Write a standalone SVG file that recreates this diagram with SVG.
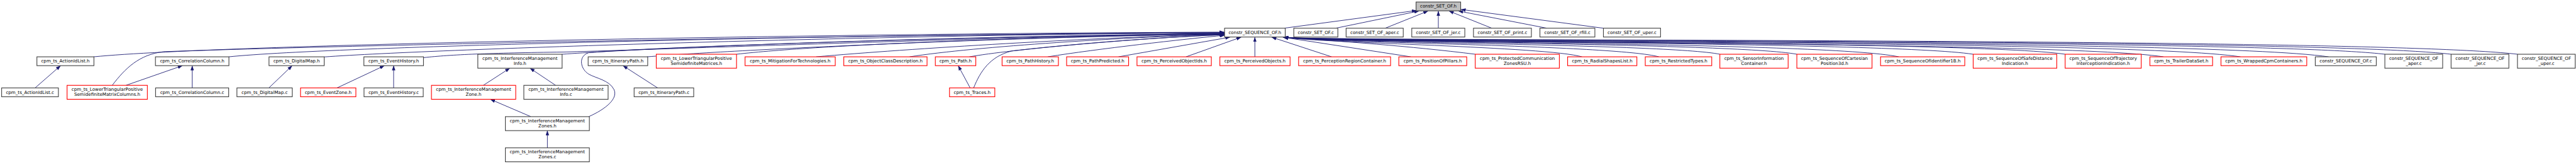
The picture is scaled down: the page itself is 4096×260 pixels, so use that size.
<svg xmlns="http://www.w3.org/2000/svg" width="4096" height="260" viewBox="0 0 4096 260">
<style>
.n rect{fill:#fff;stroke:#404040;stroke-width:2}
.r rect{stroke:#ff0000}
.root rect{fill:#bfbfbf}
text{font-family:"DejaVu Sans",sans-serif;font-size:12.9px;text-anchor:middle;fill:#000}
#connectors path{fill:none;stroke:#191970;stroke-width:1.6;marker-end:url(#ah)}
</style>
<defs>
<marker id="ah" markerUnits="userSpaceOnUse" viewBox="0 0 14 10" refX="13.5" refY="5" markerWidth="14" markerHeight="10" orient="auto"><path d="M0,0 L14,5 L0,10 z" fill="#191970"/></marker>
</defs>
<rect width="4096" height="260" fill="#fff"/>
<g transform="scale(0.5537)">
<g id="connectors">
<path d="M3687.7,80.7 L4068,30"/>
<path d="M3836,80.7 L4075,31.5"/>
<path d="M3978,80.7 L4101,31.5"/>
<path d="M4130.5,80.7 L4130.5,31.5"/>
<path d="M4284,80.7 L4161,31.5"/>
<path d="M4442,80.7 L4188,31.5"/>
<path d="M4604,80.7 L4195.5,27"/>
<path d="M269,162.7 C650,125 2500,95 3516,92"/>
<path d="M322.3,244.3 C360,195 400,156 470,148 C900,132 2400,100 3516,93"/>
<path d="M657,162.7 C950,132 2500,97 3516,93.5"/>
<path d="M931,163 C1250,140 2600,98 3516,94"/>
<path d="M1216,165 C1300,156 1400,152 1620,149 C2000,138 2800,108 3516,95"/>
<path d="M1614,155.3 C1900,135 2700,104 3516,96"/>
<path d="M1690.6,334 C1740,312 1776,282 1763,256 C1750,230 1712,224 1692,213 C1668,200 1658,162 1690,151 C1850,136 2700,106 3516,96.5"/>
<path d="M1858,162.7 C2100,143 2900,106 3516,97"/>
<path d="M2115,155.3 C2350,128 3000,104 3516,97.5"/>
<path d="M2344,162.7 C2600,140 3150,106 3516,98"/>
<path d="M2612,162.7 C2800,133 3250,105 3516,98.5"/>
<path d="M2784,162.7 C2900,142 3250,110 3516,99"/>
<path d="M2796,251.7 C2815,205 2842,162 2905,146 C3060,128 3300,108 3516,99.5"/>
<path d="M3009,162.7 C3150,140 3400,112 3517,101"/>
<path d="M3212,162.7 L3532,106.5"/>
<path d="M3406,162.7 L3564,106.5"/>
<path d="M3603.6,162.7 L3603.6,106.5"/>
<path d="M3824,162.7 L3652,106.5"/>
<path d="M4051.5,162.7 L3684,106.5"/>
<path d="M4236.5,155.3 C4050,132 3850,118 3685,106.5"/>
<path d="M4543,162.7 C4440,133 3800,124 3686,106.5"/>
<path d="M4764,162.7 C4635,128 3790,123 3686,106.5"/>
<path d="M4939,155.3 C4789,125 3785,123 3686,106.5"/>
<path d="M5160,155.3 C4983,122 3780,122 3686,106.5"/>
<path d="M5453,162.7 C5241,118 3780,124 3686,106.5"/>
<path d="M5666,155.3 C5428,118 3775,122 3686,106.5"/>
<path d="M5930.5,155.3 C5661,115 3780,123 3686,106.5"/>
<path d="M6213,162.7 C5910,116 3785,125 3686,106.5"/>
<path d="M6434,162.7 C6104,112 3780,124 3686,106.5"/>
<path d="M6687,162.7 C6327,110 3790,123 3686,106.5"/>
<path d="M6848.6,155.3 C6469,110 3785,122 3686,106.5"/>
<path d="M7038.8,155.3 C6636,107 3780,121 3686,106.5"/>
<path d="M7229.4,155.3 C6804,105 3775,120 3686,106.5"/>
<path d="M100.8,251.7 L174,188"/>
<path d="M361.8,244.3 L524,188"/>
<path d="M552,251.7 L552,188"/>
<path d="M772.1,251.7 L839,188"/>
<path d="M967.9,251.7 L1104,188"/>
<path d="M1130.4,251.7 L1130.4,188"/>
<path d="M1388,244.3 L1464,195.3"/>
<path d="M1595.6,244.3 L1522,195.3"/>
<path d="M1524.5,334 L1408,284.3"/>
<path d="M1571.9,423.3 L1571.9,374"/>
<path d="M1888.5,251.7 L1789,188"/>
<path d="M2786,251.7 L2751.6,188"/>
</g>
<g id="n0" class="n root"><rect x="4066.5" y="5.7" width="128.1" height="25.3"/><text x="4130.5" y="22.4">constr_SET_OF.h</text></g>
<g id="n1" class="n"><rect x="3516.6" y="80.7" width="174.2" height="25.3"/><text x="3603.7" y="97.4">constr_SEQUENCE_OF.h</text></g>
<g id="n2" class="n"><rect x="3715.4" y="80.7" width="126.5" height="25.3"/><text x="3778.7" y="97.4">constr_SET_OF.c</text></g>
<g id="n3" class="n"><rect x="3865.6" y="80.7" width="164.1" height="25.3"/><text x="3947.7" y="97.4">constr_SET_OF_aper.c</text></g>
<g id="n4" class="n"><rect x="4054.2" y="80.7" width="152.3" height="25.3"/><text x="4130.4" y="97.4">constr_SET_OF_jer.c</text></g>
<g id="n5" class="n"><rect x="4231.4" y="80.7" width="166.3" height="25.3"/><text x="4314.6" y="97.4">constr_SET_OF_print.c</text></g>
<g id="n6" class="n"><rect x="4422.2" y="80.7" width="157.8" height="25.3"/><text x="4501.1" y="97.4">constr_SET_OF_rfill.c</text></g>
<g id="n7" class="n"><rect x="4604.5" y="80.7" width="164.1" height="25.3"/><text x="4686.6" y="97.4">constr_SET_OF_uper.c</text></g>
<g id="a1" class="n"><rect x="106" y="162.7" width="163.7" height="25.3"/><text x="187.9" y="179.4">cpm_ts_ActionIdList.h</text></g>
<g id="a2" class="n"><rect x="446.4" y="162.7" width="211" height="25.3"/><text x="551.9" y="179.4">cpm_ts_CorrelationColumn.h</text></g>
<g id="a3" class="n"><rect x="772.5" y="162.7" width="158.5" height="25.3"/><text x="851.8" y="179.4">cpm_ts_DigitalMap.h</text></g>
<g id="a4" class="n"><rect x="1045" y="162.7" width="171.2" height="25.3"/><text x="1130.6" y="179.4">cpm_ts_EventHistory.h</text></g>
<g id="a5" class="n"><rect x="1372.2" y="155.3" width="242" height="40"/><text x="1493.2" y="171.2">cpm_ts_InterferenceManagement</text><text x="1493.2" y="185.6">Info.h</text></g>
<g id="a6" class="n"><rect x="1689" y="162.7" width="171" height="25.3"/><text x="1774.5" y="179.4">cpm_ts_ItineraryPath.h</text></g>
<g id="a7" class="n r"><rect x="1884.6" y="155.3" width="230.5" height="40"/><text x="1999.9" y="171.2">cpm_ts_LowerTriangularPositive</text><text x="1999.9" y="185.6">SemidefiniteMatrices.h</text></g>
<g id="a8" class="n r"><rect x="2139.6" y="162.7" width="259" height="25.3"/><text x="2269.1" y="179.4">cpm_ts_MitigationForTechnologies.h</text></g>
<g id="a9" class="n r"><rect x="2423.1" y="162.7" width="239.1" height="25.3"/><text x="2542.7" y="179.4">cpm_ts_ObjectClassDescription.h</text></g>
<g id="a10" class="n r"><rect x="2686" y="162.7" width="116.2" height="25.3"/><text x="2744.1" y="179.4">cpm_ts_Path.h</text></g>
<g id="a11" class="n r"><rect x="2877.7" y="162.7" width="161.7" height="25.3"/><text x="2958.6" y="179.4">cpm_ts_PathHistory.h</text></g>
<g id="a12" class="n r"><rect x="3063" y="162.7" width="178" height="25.3"/><text x="3152" y="179.4">cpm_ts_PathPredicted.h</text></g>
<g id="a13" class="n r"><rect x="3265.1" y="162.7" width="213.5" height="25.3"/><text x="3371.9" y="179.4">cpm_ts_PerceivedObjectIds.h</text></g>
<g id="a14" class="n r"><rect x="3503.1" y="162.7" width="201.6" height="25.3"/><text x="3603.9" y="179.4">cpm_ts_PerceivedObjects.h</text></g>
<g id="a15" class="n r"><rect x="3729.2" y="162.7" width="264.1" height="25.3"/><text x="3861.3" y="179.4">cpm_ts_PerceptionRegionContainer.h</text></g>
<g id="a16" class="n r"><rect x="4017" y="162.7" width="195" height="25.3"/><text x="4114.5" y="179.4">cpm_ts_PositionOfPillars.h</text></g>
<g id="a17" class="n r"><rect x="4236.5" y="155.3" width="241.5" height="40"/><text x="4357.3" y="171.2">cpm_ts_ProtectedCommunication</text><text x="4357.3" y="185.6">ZonesRSU.h</text></g>
<g id="a18" class="n r"><rect x="4501.7" y="162.7" width="198.9" height="25.3"/><text x="4601.2" y="179.4">cpm_ts_RadialShapesList.h</text></g>
<g id="a19" class="n r"><rect x="4724.7" y="162.7" width="190.9" height="25.3"/><text x="4820.2" y="179.4">cpm_ts_RestrictedTypes.h</text></g>
<g id="a20" class="n r"><rect x="4938.9" y="155.3" width="196.1" height="40"/><text x="5037" y="171.2">cpm_ts_SensorInformation</text><text x="5037" y="185.6">Container.h</text></g>
<g id="a21" class="n r"><rect x="5160" y="155.3" width="215.9" height="40"/><text x="5268" y="171.2">cpm_ts_SequenceOfCartesian</text><text x="5268" y="185.6">Position3d.h</text></g>
<g id="a22" class="n r"><rect x="5400.4" y="162.7" width="241.8" height="25.3"/><text x="5521.3" y="179.4">cpm_ts_SequenceOfIdentifier1B.h</text></g>
<g id="a23" class="n r"><rect x="5666.4" y="155.3" width="240" height="40"/><text x="5786.4" y="171.2">cpm_ts_SequenceOfSafeDistance</text><text x="5786.4" y="185.6">Indication.h</text></g>
<g id="a24" class="n r"><rect x="5930.5" y="155.3" width="218.5" height="40"/><text x="6039.8" y="171.2">cpm_ts_SequenceOfTrajectory</text><text x="6039.8" y="185.6">InterceptionIndication.h</text></g>
<g id="a25" class="n r"><rect x="6173.9" y="162.7" width="180" height="25.3"/><text x="6263.9" y="179.4">cpm_ts_TrailerDataSet.h</text></g>
<g id="a26" class="n r"><rect x="6378" y="162.7" width="246.3" height="25.3"/><text x="6501.2" y="179.4">cpm_ts_WrappedCpmContainers.h</text></g>
<g id="a27" class="n"><rect x="6648.8" y="162.7" width="175.2" height="25.3"/><text x="6736.4" y="179.4">constr_SEQUENCE_OF.c</text></g>
<g id="a28" class="n"><rect x="6848.6" y="155.3" width="166" height="40"/><text x="6931.6" y="171.2">constr_SEQUENCE_OF</text><text x="6931.6" y="185.6">_aper.c</text></g>
<g id="a29" class="n"><rect x="7038.8" y="155.3" width="165.9" height="40"/><text x="7121.8" y="171.2">constr_SEQUENCE_OF</text><text x="7121.8" y="185.6">_jer.c</text></g>
<g id="a30" class="n"><rect x="7229.4" y="155.3" width="165.9" height="40"/><text x="7312.4" y="171.2">constr_SEQUENCE_OF</text><text x="7312.4" y="185.6">_uper.c</text></g>
<g id="b1" class="n"><rect x="4.7" y="251.7" width="163" height="25.3"/><text x="86.2" y="268.4">cpm_ts_ActionIdList.c</text></g>
<g id="b2" class="n r"><rect x="192.6" y="244.3" width="230.6" height="40"/><text x="307.9" y="260.2">cpm_ts_LowerTriangularPositive</text><text x="307.9" y="274.6">SemidefiniteMatrixColumns.h</text></g>
<g id="b3" class="n"><rect x="446.8" y="251.7" width="209.9" height="25.3"/><text x="551.8" y="268.4">cpm_ts_CorrelationColumn.c</text></g>
<g id="b4" class="n"><rect x="680.4" y="251.7" width="158.9" height="25.3"/><text x="759.9" y="268.4">cpm_ts_DigitalMap.c</text></g>
<g id="b5" class="n r"><rect x="863" y="251.7" width="159" height="25.3"/><text x="942.5" y="268.4">cpm_ts_EventZone.h</text></g>
<g id="b6" class="n"><rect x="1045.4" y="251.7" width="170" height="25.3"/><text x="1130.4" y="268.4">cpm_ts_EventHistory.c</text></g>
<g id="b7" class="n r"><rect x="1239" y="244.3" width="242" height="40"/><text x="1360" y="260.2">cpm_ts_InterferenceManagement</text><text x="1360" y="274.6">Zone.h</text></g>
<g id="b8" class="n"><rect x="1504.3" y="244.3" width="242" height="40"/><text x="1625.3" y="260.2">cpm_ts_InterferenceManagement</text><text x="1625.3" y="274.6">Info.c</text></g>
<g id="b9" class="n"><rect x="1821" y="251.7" width="171.1" height="25.3"/><text x="1906.6" y="268.4">cpm_ts_ItineraryPath.c</text></g>
<g id="b10" class="n r"><rect x="2726.7" y="251.7" width="130.1" height="25.3"/><text x="2791.8" y="268.4">cpm_ts_Traces.h</text></g>
<g id="c1" class="n"><rect x="1451.3" y="334" width="241.2" height="40"/><text x="1571.9" y="349.9">cpm_ts_InterferenceManagement</text><text x="1571.9" y="364.3">Zones.h</text></g>
<g id="d1" class="n"><rect x="1451.3" y="423.3" width="241.2" height="40"/><text x="1571.9" y="439.2">cpm_ts_InterferenceManagement</text><text x="1571.9" y="453.6">Zones.c</text></g>
</g>
</svg>
